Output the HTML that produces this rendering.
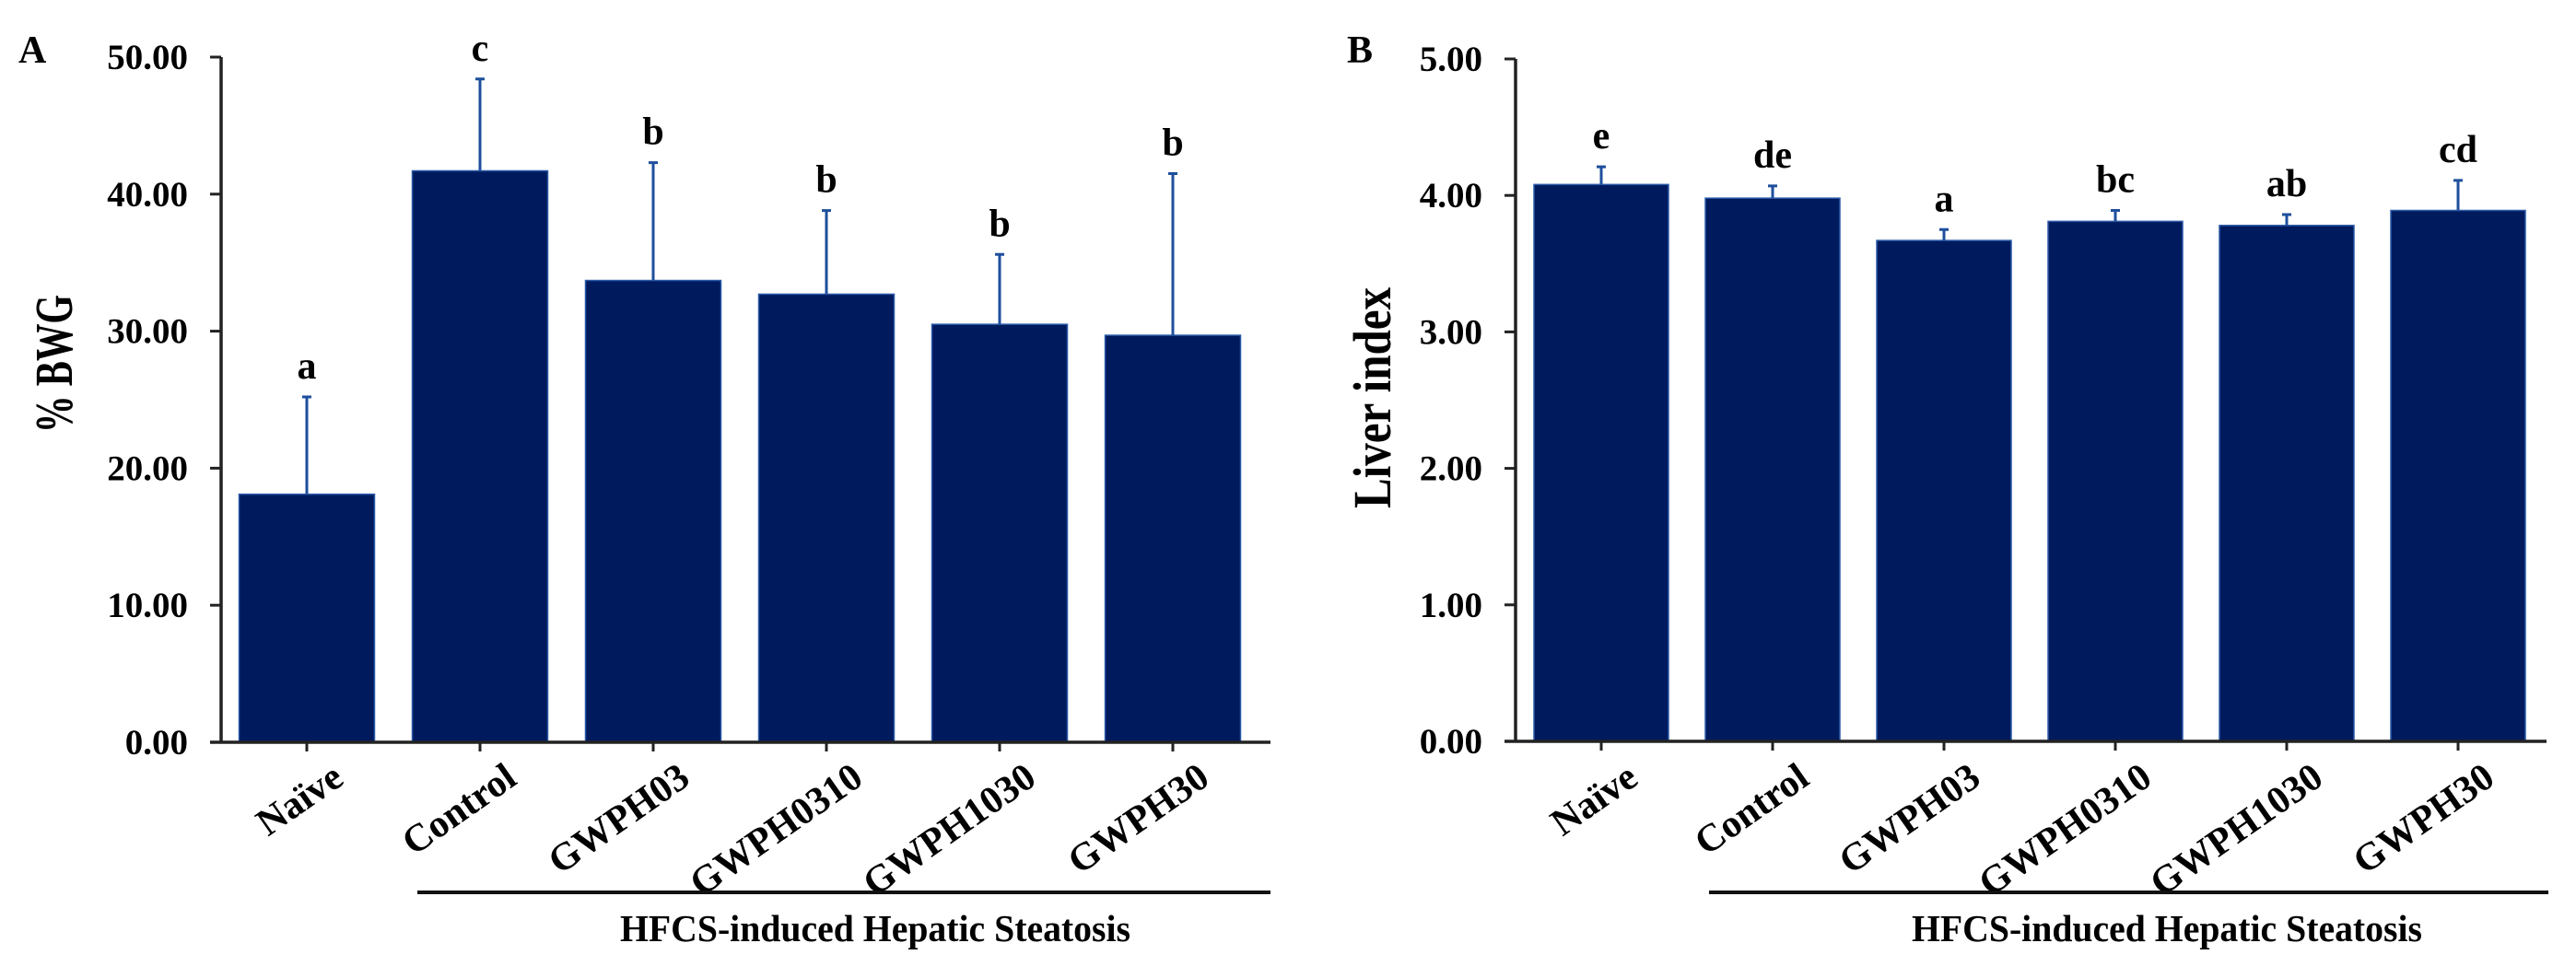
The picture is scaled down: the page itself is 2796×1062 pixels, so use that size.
<!DOCTYPE html>
<html><head><meta charset="utf-8"><style>
html,body{margin:0;padding:0;background:#fff;}
svg{display:block;font-family:"Liberation Serif","Times New Roman",serif;font-weight:bold;}
</style></head><body>
<svg id="fig" width="2796" height="1062" viewBox="0 0 2796 1062"></svg>
<script>
const categories = ["Naïve","Control","GWPH03","GWPH0310","GWPH1030","GWPH30"];
const bwgMeans = [18.1, 41.7, 33.7, 32.7, 30.5, 29.7];
const bwgErrTops = [25.2, 48.4, 42.3, 38.8, 35.6, 41.5];
const bwgLetters = ["a","c","b","b","b","b"];
const bwgTicks = ["0.00","10.00","20.00","30.00","40.00","50.00"];
const liverMeans = [4.08, 3.98, 3.67, 3.81, 3.78, 3.89];
const liverErrTops = [4.21, 4.07, 3.75, 3.89, 3.86, 4.11];
const liverLetters = ["e","de","a","bc","ab","cd"];
const liverTicks = ["0.00","1.00","2.00","3.00","4.00","5.00"];

const NS = "http://www.w3.org/2000/svg";
const svg = document.getElementById("fig");
function mk(tag, attrs, parent, text){
  const e = document.createElementNS(NS, tag);
  for (const k in attrs) e.setAttribute(k, attrs[k]);
  if (text !== undefined) e.textContent = text;
  (parent || svg).appendChild(e);
  return e;
}

function panel(cfg){
  const g = mk("g", {});
  
  
  const y = v => cfg.y0 - (v / cfg.max) * (cfg.y0 - cfg.yTop);
  const x = i => cfg.firstTick + i * cfg.step;
  cfg.means.forEach((m, i) => {
    const r = mk("rect", {x: x(i) - cfg.bw/2, y: y(m), width: cfg.bw, height: cfg.y0 - y(m), fill: "#001a5e", stroke: "#2a5aa8", "stroke-width": 1.5}, g);
    
    
    const eb = mk("path", {d: `M${x(i)} ${y(m)} V${y(cfg.errs[i])} M${x(i)-5} ${y(cfg.errs[i])} H${x(i)+5}`, stroke: "#1e4f9c", "stroke-width": 3, fill: "none"}, g);
    
    
    const lt = mk("text", {x: x(i), y: y(cfg.errs[i]) - 20, "text-anchor": "middle", "font-size": 42}, g, cfg.letters[i]);
    
    
  });
  const ax = mk("path", {d: `M${cfg.axisX} ${cfg.yTop} V${cfg.y0} M${cfg.axisX-12} ${cfg.y0} H${cfg.axisEnd}`, stroke: "#222", "stroke-width": 3.5, fill: "none"}, g);
  
  
  cfg.ticks.forEach((t, j) => {
    const v = j * cfg.max / (cfg.ticks.length - 1);
    mk("line", {x1: cfg.axisX - 12, x2: cfg.axisX, y1: y(v), y2: y(v), stroke: "#222", "stroke-width": 3}, g);
    const tl = mk("text", {x: cfg.axisX - 36, y: y(v) + 13, "text-anchor": "end", "font-size": 39}, g, t);
    
    
  });
  categories.forEach((c, i) => {
    mk("line", {x1: x(i), x2: x(i), y1: cfg.y0, y2: cfg.y0 + 10, stroke: "#222", "stroke-width": 3}, g);
    const tx = x(i) + 42, ty = 850;
    const cl = mk("text", {x: tx, y: ty, "text-anchor": "end", "font-size": 42, transform: `rotate(-35 ${tx} ${ty})`}, g, c);
    
    
  });
  const yt = mk("text", {x: 0, y: 0, "text-anchor": "middle", "font-size": 58, textLength: cfg.titleLen, lengthAdjust: "spacingAndGlyphs", transform: `translate(${cfg.titleX} ${cfg.titleY}) rotate(-90)`}, g, cfg.title);
  
  
  const pl = mk("text", {x: cfg.letterX, y: 68, "font-size": 42}, g, cfg.letter);
  
  
  const br = mk("line", {x1: cfg.brL, x2: cfg.brR, y1: 969, y2: 969, stroke: "#111", "stroke-width": 4}, g);
  
  
  const gt = mk("text", {x: cfg.grpX, y: 1022, "font-size": 41, textLength: 554, lengthAdjust: "spacingAndGlyphs"}, g, "HFCS-induced Hepatic Steatosis");
  
  
}

panel({name: "panel-a-bwg", means: bwgMeans, errs: bwgErrTops, letters: bwgLetters, ticks: bwgTicks, max: 50,
  y0: 806, yTop: 62, axisX: 240, axisEnd: 1379, firstTick: 333, step: 188, bw: 147,
  title: "% BWG", titleLen: 150, titleX: 78, titleY: 395, letter: "A", letterX: 20, brL: 453, brR: 1379, grpX: 673});
panel({name: "panel-b-liver", means: liverMeans, errs: liverErrTops, letters: liverLetters, ticks: liverTicks, max: 5,
  y0: 805, yTop: 64, axisX: 1645, axisEnd: 2764, firstTick: 1738, step: 186, bw: 146,
  title: "Liver index", titleLen: 240, titleX: 1509, titleY: 432, letter: "B", letterX: 1462, brL: 1855, brR: 2766, grpX: 2075});
</script>
</body></html>
